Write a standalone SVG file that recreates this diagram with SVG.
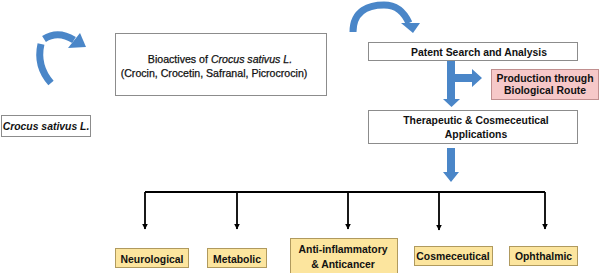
<svg xmlns="http://www.w3.org/2000/svg" width="600" height="273" viewBox="0 0 600 273">
<defs>
<style>
.box{fill:#fff;stroke:#8c8c8c;stroke-width:1}
.yel{fill:#fce59e;stroke:#b09a5e;stroke-width:1}
.pink{fill:#f6c8c8;stroke:#c08f8f;stroke-width:1}
.t{font-family:"Liberation Sans",Arial,sans-serif;font-size:10.4px;font-weight:bold;fill:#111;text-anchor:middle}
.r{font-weight:normal;font-size:10.6px;stroke:#111;stroke-width:0.25}
.blue{fill:#4a86c8}
.bstroke{fill:none;stroke:#4a86c8;stroke-width:7}
.ln{stroke:#000;stroke-width:1.8;fill:none}
</style>
<marker id="ah" viewBox="0 0 10 10" refX="9" refY="5" markerWidth="3.2" markerHeight="3.2" orient="auto" markerUnits="strokeWidth">
<path d="M0,0 L10,5 L0,10 z" fill="#000"/>
</marker>
</defs>

<g id="crocus">
<rect class="box" x="1.5" y="115.5" width="89" height="21"/>
<text class="t" x="46" y="130" font-style="italic" font-size="9.6">Crocus sativus L.</text>
</g>

<g id="bioactives">
<rect class="box" x="115.5" y="33.5" width="211" height="62"/>
<text class="t r" x="220" y="63">Bioactives of <tspan font-style="italic">Crocus sativus L.</tspan></text>
<text class="t r" x="214" y="77">(Crocin, Crocetin, Safranal, Picrocrocin)</text>
</g>

<g id="patent">
<rect class="box" x="368.5" y="42.5" width="209" height="18"/>
<text class="t" x="479" y="55.5">Patent Search and Analysis</text>
</g>

<g id="production">
<rect class="pink" x="491.5" y="69.5" width="107" height="30"/>
<text class="t" x="545" y="81.5">Production through</text>
<text class="t" x="545" y="94">Biological Route</text>
</g>

<g id="therapeutic">
<rect class="box" x="368.5" y="110.5" width="209" height="33"/>
<text class="t" x="476" y="123.5">Therapeutic &amp; Cosmeceutical</text>
<text class="t" x="476" y="138">Applications</text>
</g>

<g id="neurological">
<rect class="yel" x="115.5" y="248.5" width="73" height="19"/>
<text class="t" x="152" y="262.5">Neurological</text>
</g>
<g id="metabolic">
<rect class="yel" x="207.5" y="248.5" width="59" height="19"/>
<text class="t" x="237" y="262.5">Metabolic</text>
</g>
<g id="antiinflammatory">
<rect class="yel" x="290.5" y="238.5" width="107" height="36"/>
<text class="t" x="343" y="253">Anti-inflammatory</text>
<text class="t" x="343" y="267.5">&amp; Anticancer</text>
</g>
<g id="cosmeceutical">
<rect class="yel" x="414.5" y="246.5" width="78" height="19"/>
<text class="t" x="453" y="260">Cosmeceutical</text>
</g>
<g id="ophthalmic">
<rect class="yel" x="509.5" y="246.5" width="68" height="19"/>
<text class="t" x="543.5" y="260">Ophthalmic</text>
</g>

<g id="connectors">
<path class="bstroke" d="M51,83 Q36,66 41,44"/>
<path class="bstroke" d="M44,39 Q58,30 74,40"/>
<polygon class="blue" points="80,33 86,47 68,48"/>
<path class="bstroke" d="M353,32 C353,10 370,5 384,5 C397,5 404,12 409,23"/>
<polygon class="blue" points="401,23 420,23 413,33"/>
<polygon class="blue" points="447,61 455,61 455,74 472,74 472,69 482,78 472,87 472,82 455,82 455,99 460,99 451.5,107 443,99 447,99"/>
<polygon class="blue" points="447,148 455,148 455,172 459,172 451,182 443,172 447,172"/>
<path class="ln" d="M145,192 H545"/>
<path class="ln" d="M145,192 V229" marker-end="url(#ah)"/>
<path class="ln" d="M237,192 V229" marker-end="url(#ah)"/>
<path class="ln" d="M348,192 V229" marker-end="url(#ah)"/>
<path class="ln" d="M439,192 V230" marker-end="url(#ah)"/>
<path class="ln" d="M545,192 V229" marker-end="url(#ah)"/>
</g>
</svg>
